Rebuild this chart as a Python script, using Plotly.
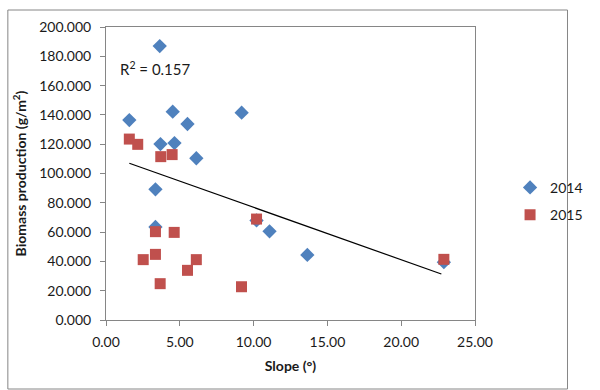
import plotly.graph_objects as go

# Data
slope_2014 = [3.64, 1.58, 4.52, 5.52, 3.69, 4.64, 6.12, 9.19, 3.35, 3.35, 10.20, 11.08, 13.64, 22.89]
biomass_2014 = [187.0, 136.5, 142.2, 133.8, 120.1, 120.8, 110.4, 141.5, 89.2, 63.5, 68.0, 60.5, 44.4, 39.5]

slope_2015 = [1.58, 2.15, 3.71, 4.48, 10.20, 3.35, 4.62, 2.52, 3.35, 3.67, 5.52, 6.12, 9.18, 22.89]
biomass_2015 = [123.5, 119.9, 111.5, 112.9, 68.9, 60.3, 59.8, 41.2, 44.8, 24.8, 33.9, 41.2, 22.7, 41.4]

trend_x = [1.58, 22.72]
trend_y = [107.0, 31.4]

y_ticks = [0, 20, 40, 60, 80, 100, 120, 140, 160, 180, 200]
x_ticks = [0, 5, 10, 15, 20, 25]

FONT = "Lato, 'Open Sans', sans-serif"
AXIS_GRAY = "#868686"
TXT = "#1a1a1a"

fig = go.Figure()
fig.add_trace(go.Scatter(
    x=slope_2014, y=biomass_2014, mode="markers", name="2014",
    legendgroup="a",
    marker=dict(symbol="diamond", size=11, color="#4F81BD",
                line=dict(width=0)),
))
fig.add_trace(go.Scatter(
    x=slope_2015, y=biomass_2015, mode="markers", name="2015",
    legendgroup="b",
    marker=dict(symbol="square", size=11, color="#C0504D",
                line=dict(width=0)),
))
fig.add_trace(go.Scatter(
    x=trend_x, y=trend_y, mode="lines", showlegend=False,
    line=dict(color="black", width=1.2), hoverinfo="skip",
))

fig.update_layout(
    width=600, height=390,
    margin=dict(l=106, r=103, t=27, b=70),
    paper_bgcolor="white", plot_bgcolor="white",
    font=dict(family=FONT, size=14, color=TXT),
    showlegend=True,
    legend=dict(x=1.095, y=0.405, xanchor="left", yanchor="middle",
                font=dict(size=14), tracegroupgap=6,
                traceorder="grouped", bgcolor="rgba(0,0,0,0)"),
    xaxis=dict(range=[0, 25], tickvals=x_ticks,
               ticktext=[f"{v:.2f}" for v in x_ticks],
               showgrid=False, zeroline=False, showline=True,
               linecolor=AXIS_GRAY, linewidth=1, mirror=True,
               ticks="outside", ticklen=5, tickcolor=AXIS_GRAY,
               ticklabelstandoff=4,
               title=dict(text="<b>Slope (°)</b>", font=dict(size=14), standoff=12)),
    yaxis=dict(range=[0, 200], tickvals=y_ticks,
               ticktext=[f"{v:.3f}" for v in y_ticks],
               showgrid=False, zeroline=False, showline=True,
               linecolor=AXIS_GRAY, linewidth=1, mirror=True,
               ticks="outside", ticklen=5, tickcolor=AXIS_GRAY,
               ticklabelstandoff=6,
               title=dict(text="<b>Biomass production (g/m<sup>2</sup>)</b>",
                          font=dict(size=14), standoff=9)),
    annotations=[dict(
        x=0.8, y=172, xref="x", yref="y", xanchor="left", yanchor="middle",
        text="R<sup>2</sup> = 0.157", showarrow=False,
        font=dict(size=15, family=FONT, color=TXT),
    )],
    shapes=[dict(
        type="rect", xref="paper", yref="paper",
        x0=(2 - 106) / 391, x1=(595 - 106) / 391,
        y0=(320 - 389) / 293, y1=(320 - 10) / 293,
        line=dict(color=AXIS_GRAY, width=1), fillcolor="rgba(0,0,0,0)",
        layer="below",
    )],
)

fig.write_html("out.html")
